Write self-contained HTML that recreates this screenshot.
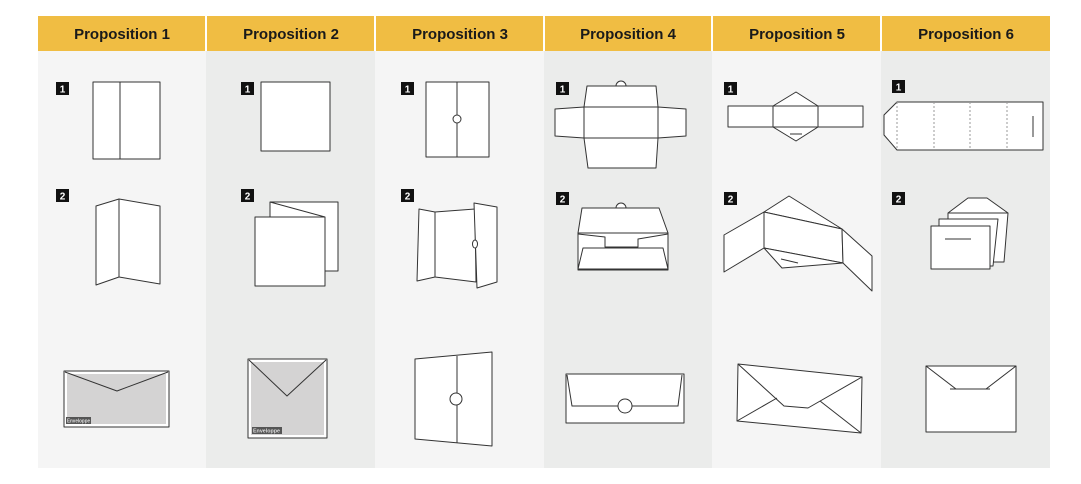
<!DOCTYPE html>
<html><head><meta charset="utf-8"><style>
body{margin:0;background:#fff;}
svg{display:block;}
text{font-family:"Liberation Sans",sans-serif;}
</style></head><body>
<svg width="1081" height="484" viewBox="0 0 1081 484" xmlns="http://www.w3.org/2000/svg">
<rect width="1081" height="484" fill="#fff"/>
<rect x="38" y="51" width="168" height="417" fill="#f5f5f5"/>
<rect x="206" y="51" width="169" height="417" fill="#ebeceb"/>
<rect x="375" y="51" width="169" height="417" fill="#f5f5f5"/>
<rect x="544" y="51" width="168" height="417" fill="#ebeceb"/>
<rect x="712" y="51" width="169" height="417" fill="#f5f5f5"/>
<rect x="881" y="51" width="169" height="417" fill="#ebeceb"/>
<g fill="#f0bd43">
<rect x="38" y="16" width="167" height="35"/><rect x="207" y="16" width="167" height="35"/>
<rect x="376" y="16" width="167" height="35"/><rect x="545" y="16" width="166" height="35"/>
<rect x="713" y="16" width="167" height="35"/><rect x="882" y="16" width="168" height="35"/>
</g>
<g font-size="15" font-weight="bold" fill="#1a1a1a" text-anchor="middle">
<text x="122" y="39">Proposition 1</text><text x="291" y="39">Proposition 2</text>
<text x="460" y="39">Proposition 3</text><text x="628" y="39">Proposition 4</text>
<text x="797" y="39">Proposition 5</text><text x="966" y="39">Proposition 6</text>
</g>
<g fill="#111">
<rect x="56" y="82" width="13" height="13"/><rect x="56" y="189" width="13" height="13"/>
<rect x="241" y="82" width="13" height="13"/><rect x="241" y="189" width="13" height="13"/>
<rect x="401" y="82" width="13" height="13"/><rect x="401" y="189" width="13" height="13"/>
<rect x="556" y="82" width="13" height="13"/><rect x="556" y="192" width="13" height="13"/>
<rect x="724" y="82" width="13" height="13"/><rect x="724" y="192" width="13" height="13"/>
<rect x="892" y="80" width="13" height="13"/><rect x="892" y="192" width="13" height="13"/>
</g>
<g fill="#fff" font-size="10" font-weight="bold" text-anchor="middle">
<text x="62.5" y="92.5">1</text><text x="62.5" y="199.5">2</text>
<text x="247.5" y="92.5">1</text><text x="247.5" y="199.5">2</text>
<text x="407.5" y="92.5">1</text><text x="407.5" y="199.5">2</text>
<text x="562.5" y="92.5">1</text><text x="562.5" y="202.5">2</text>
<text x="730.5" y="92.5">1</text><text x="730.5" y="202.5">2</text>
<text x="898.5" y="90.5">1</text><text x="898.5" y="202.5">2</text>
</g>
<g fill="#fff" stroke="#333" stroke-width="1" stroke-linejoin="round">
<rect x="93" y="82" width="67" height="77"/><line x1="120" y1="82" x2="120" y2="159"/>
<polygon points="96,206 119,199 119,277 96,285"/>
<polygon points="119,199 160,206 160,284 119,277"/>
<rect x="64" y="371" width="105" height="56" fill="#fff"/>
<rect x="67" y="374" width="99" height="50" fill="#d4d3d3" stroke="none"/>
<polyline points="65,372 117,391 168,372" fill="none"/>
<rect x="261" y="82" width="69" height="69"/>
<rect x="270" y="202" width="68" height="69"/>
<line x1="270" y1="202" x2="325" y2="217"/>
<rect x="255" y="217" width="70" height="69"/>
<rect x="248" y="359" width="79" height="79"/>
<rect x="251" y="362" width="73" height="73" fill="#d4d3d3" stroke="none"/>
<polyline points="249,360 287,396 326,360" fill="none"/>
<rect x="426" y="82" width="63" height="75"/><line x1="457" y1="82" x2="457" y2="157"/>
<circle cx="457" cy="119" r="4"/>
<polygon points="419,209 435,212 435,277 417,281"/>
<polygon points="435,212 475,209 476,282 435,277"/>
<polygon points="474,203 497,207 497,282 477,288"/>
<ellipse cx="475" cy="244" rx="2.5" ry="4"/>
<polygon points="415,359 492,352 492,446 415,439"/>
<line x1="457" y1="356" x2="457" y2="443"/>
<circle cx="456" cy="399" r="6"/>
<path d="M616,86 A5,5 0 0 1 626,86 Z"/>
<polygon points="584,107 587,86 656,86 658,107"/>
<polygon points="584,138 588,168 656,168 658,138"/>
<polygon points="555,109 584,107 584,138 555,136"/>
<polygon points="658,107 686,109 686,136 658,138"/>
<rect x="584" y="107" width="74" height="31"/>
<path d="M616,208 A5,5 0 0 1 626,208 Z"/>
<polygon points="578,233 582,208 659,208 668,233"/>
<rect x="578" y="233" width="90" height="37"/>
<polyline points="578,234 605,237 605,247 638,247 638,239 668,234" fill="none"/>
<polygon points="578,269 583,248 663,248 668,269"/>
<rect x="566" y="374" width="118" height="49"/>
<polyline points="567,375 572,406 678,406 682,375" fill="none"/>
<circle cx="625" cy="406" r="7"/>
<rect x="728" y="106" width="45" height="21"/>
<rect x="818" y="106" width="45" height="21"/>
<polygon points="773,106 796,92 818,106 818,127 796,141 773,127"/>
<line x1="773" y1="106" x2="818" y2="106"/><line x1="773" y1="127" x2="818" y2="127"/>
<line x1="790" y1="134" x2="802" y2="134"/>
<polygon points="764,212 789,196 842,229"/>
<polygon points="724,235 764,212 764,248 724,272"/>
<polygon points="764,212 842,229 843,263 764,248"/>
<polygon points="842,229 872,256 872,291 843,263"/>
<polygon points="764,248 782,268 843,263"/>
<line x1="781" y1="259" x2="798" y2="263"/>
<polygon points="738,364 862,377 861,433 737,421"/>
<polyline points="738,364 784,406 808,408 862,377" fill="none"/>
<line x1="737" y1="421" x2="777" y2="398"/>
<line x1="861" y1="433" x2="820" y2="401"/>
<polygon points="897,102 1043,102 1043,150 897,150 884,135 884,115"/>
<g stroke="#999" stroke-dasharray="2,2"><line x1="897" y1="102" x2="897" y2="150"/><line x1="934" y1="102" x2="934" y2="150"/><line x1="970" y1="102" x2="970" y2="150"/><line x1="1007" y1="102" x2="1007" y2="150"/></g>
<line x1="1033" y1="116" x2="1033" y2="137"/>
<polygon points="948,213 968,198 987,198 1008,213 1004,262 948,262"/>
<polygon points="939,219 998,219 993,266 939,266"/>
<line x1="948" y1="213" x2="1008" y2="213"/>
<rect x="931" y="226" width="59" height="43"/>
<line x1="945" y1="239" x2="971" y2="239"/>
<rect x="926" y="366" width="90" height="66"/>
<polyline points="926,366 956,389 986,389 1016,366" fill="none"/>
<line x1="950" y1="389" x2="990" y2="389"/>
</g>
<g>
<rect x="66" y="417" width="25" height="7" fill="#555"/>
<text x="67" y="422.5" font-size="5.5" font-weight="bold" fill="#ddd" textLength="23" lengthAdjust="spacingAndGlyphs">Enveloppe</text>
<rect x="252" y="427" width="30" height="7" fill="#555"/>
<text x="253" y="432.5" font-size="5.5" font-weight="bold" fill="#ddd" textLength="27" lengthAdjust="spacingAndGlyphs">Enveloppe</text>
</g>
</svg>
</body></html>
